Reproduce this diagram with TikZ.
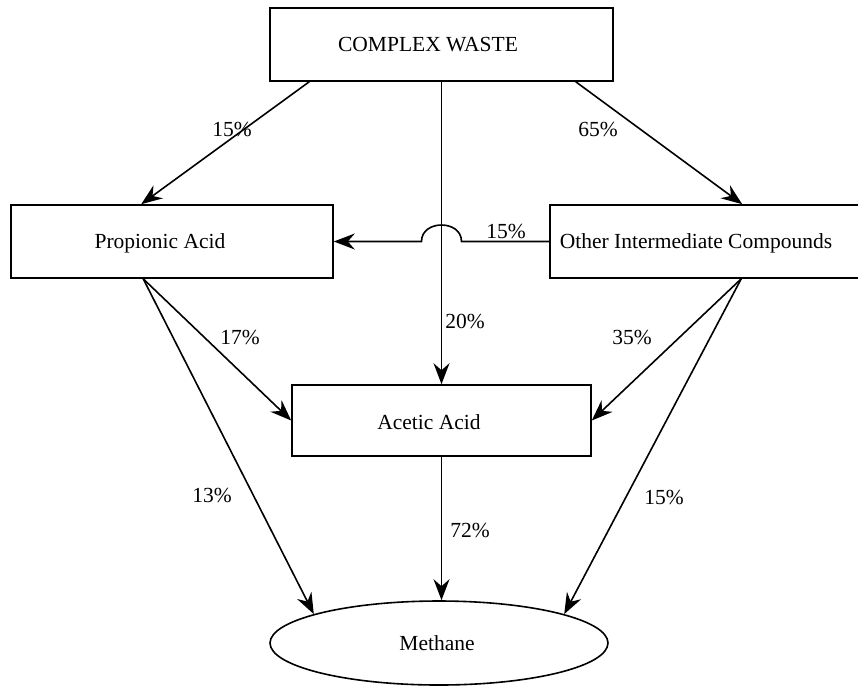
\documentclass[tikz,border=0pt]{standalone}
\usepackage{fontspec}
\setmainfont{Liberation Serif}
\usetikzlibrary{arrows.meta,calc,shapes.geometric}
\begin{document}
\begin{tikzpicture}[x=1pt,y=-1pt,
  box/.style={draw,line width=1.6pt,rectangle,inner sep=0pt},
  oval/.style={draw,line width=1.6pt,ellipse,inner sep=0pt},
  arr/.style={line width=1.6pt,-{Stealth[length=21pt,width=16pt,inset=7pt]}},
  txt/.style={font=\fontsize{21.5}{25}\selectfont,inner sep=0pt}]
\useasboundingbox (0,0) rectangle (858,686);
% boxes
\node[box,minimum width=343pt,minimum height=73pt] (cw) at (441.5,44.5) {};
\node[box,minimum width=322pt,minimum height=73pt] (pa) at (172,241.5) {};
\node[box,minimum width=320pt,minimum height=73pt] (oi) at (710,241.5) {};
\node[box,minimum width=299pt,minimum height=71pt] (aa) at (441.5,420.5) {};
\node[oval,minimum width=338pt,minimum height=84pt] (me) at (439,643) {};
% texts
\node[txt] (cwt) at (428,45) {COMPLEX WASTE};
\node[txt] (pat) at (160,243) {Propionic Acid};
\node[txt] (oit) at (696,243) {Other Intermediate Compounds};
\node[txt] (aat) at (429,422) {Acetic Acid};
\node[txt] (met) at (437,643) {Methane};
% helper coordinates
\coordinate (cwL) at ($(cw.south west)+(40,0)$);
\coordinate (cwR) at ($(cw.south east)+(-38,0)$);
\coordinate (paT) at ($(pa.north west)+(131,0)$);
\coordinate (oiT) at ($(oi.north west)+(193,0)$);
\coordinate (paB) at ($(pa.south west)+(133,0)$);
\coordinate (oiB) at ($(oi.south west)+(192,0)$);
\coordinate (hopR) at ($(cw.south |- oi.west)+(20,0)$);
\coordinate (hopL) at ($(cw.south |- oi.west)+(-20,0)$);
\coordinate (hopRc) at ($(hopR)+(0,-22)$);
\coordinate (hopLc) at ($(hopL)+(0,-22)$);
% connectors
\draw[arr] (cwL) -- (paT);
\draw[arr] (cwR) -- (oiT);
\draw[arr] (cw.south) -- (aa.north);
\draw[arr] (oi.west) -- (hopR) .. controls (hopRc) and (hopLc) .. (hopL) -- (pa.east);
\draw[arr] (paB) -- (aa.west);
\draw[arr] (paB) -- (me.167);
\draw[arr] (oiB) -- (aa.east);
\draw[arr] (oiB) -- (me.13);
\draw[arr] (aa.south) -- (aa.south |- me.north);
% labels
\node[txt] (l1) at (232,129) {15\%};
\node[txt] (l2) at (598,129) {65\%};
\node[txt] (l3) at (506,231) {15\%};
\node[txt] (l4) at (465,321) {20\%};
\node[txt] (l5) at (240,337) {17\%};
\node[txt] (l6) at (632,337) {35\%};
\node[txt] (l7) at (212,495) {13\%};
\node[txt] (l8) at (470,530) {72\%};
\node[txt] (l9) at (664,497) {15\%};
\end{tikzpicture}
\end{document}
